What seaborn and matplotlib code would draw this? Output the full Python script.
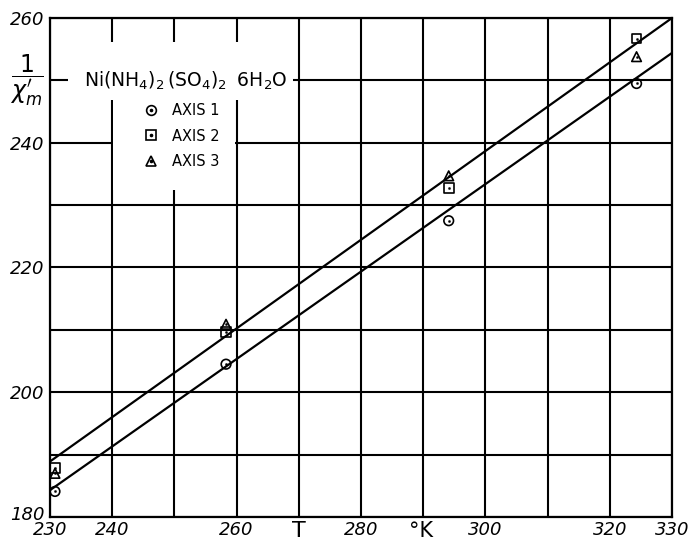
import numpy as np
import pandas as pd
import seaborn as sns
import matplotlib
matplotlib.use("Agg")
import matplotlib.pyplot as plt
from matplotlib.patches import Rectangle
from matplotlib.lines import Line2D
from matplotlib.legend_handler import HandlerTuple
from matplotlib.transforms import ScaledTranslation

# Measured reciprocal susceptibility of Ni(NH4)2(SO4)2·6H2O along three crystal axes
temps = [230.8, 258.3, 294.1, 324.3]
axis1 = [184.1, 204.5, 227.5, 249.5]
axis2 = [187.9, 209.7, 232.7, 256.7]
axis3 = [187.0, 210.9, 234.7, 253.8]
series_labels = ["AXIS 1", "AXIS 2", "AXIS 3"]
series_markers = ["o", "s", "^"]

# Straight lines drawn through the data (end points at 230 K and 330 K)
line_T = [230, 330]
upper_line = [188.9, 260.0]
lower_line = [184.3, 254.4]

x_tick_labels = [230, 240, 260, 280, 300, 320, 330]
y_tick_labels = [180, 200, 220, 240, 260]

points = pd.DataFrame({
    "T": temps * 3,
    "inv_chi": axis1 + axis2 + axis3,
    "axis": np.repeat(series_labels, len(temps)),
})
lines = pd.DataFrame({
    "T": line_T * 2,
    "inv_chi": upper_line + lower_line,
    "fit": ["upper"] * 2 + ["lower"] * 2,
})

sns.set_style("white")
plt.rcParams["font.family"] = ["DejaVu Sans"]
plt.rcParams.update({"text.color": "black", "xtick.color": "black",
                     "ytick.color": "black", "axes.labelcolor": "black"})

W, H = 688, 540
fig = plt.figure(figsize=(W / 100, H / 100), dpi=100)
ax = fig.add_axes([50 / W, 23 / H, 622 / W, 499 / H])

ax.set_xlim(230, 330)
ax.set_ylim(180, 260)
xt = np.arange(230, 331, 10)
yt = np.arange(180, 261, 10)
ax.set_xticks(xt)
ax.set_yticks(yt)
ax.set_xticklabels([str(v) if v in x_tick_labels else "" for v in xt],
                   fontsize=13, fontstyle="oblique")
ax.set_yticklabels([str(v) if v in y_tick_labels else "" for v in yt],
                   fontsize=13, fontstyle="oblique")
ax.tick_params(axis="x", length=0, pad=3, colors="black")
ax.tick_params(axis="y", length=0, pad=4, colors="black")
# lift the lowest y label a little so it clears the first x label
for lbl in ax.get_yticklabels():
    if lbl.get_text() == "180":
        lbl.set_transform(lbl.get_transform() +
                          ScaledTranslation(0, 4 / 100, fig.dpi_scale_trans))
ax.set_axisbelow(True)
ax.grid(True, color="black", lw=1.5)
for sp in ax.spines.values():
    sp.set_color("black")
    sp.set_linewidth(1.6)

# clear panels behind the compound name and the key
ax.add_patch(Rectangle((232.9, 246.8), 269.1 - 232.9, 256.1 - 246.8,
                       facecolor="white", edgecolor="none", zorder=1))
ax.add_patch(Rectangle((240.15, 232.4), 259.75 - 240.15, 246.9 - 232.4,
                       facecolor="white", edgecolor="none", zorder=1))

sns.lineplot(data=lines, x="T", y="inv_chi", units="fit", estimator=None,
             color="black", lw=1.6, ax=ax, zorder=2, legend=False)

for lab, mk in zip(series_labels, series_markers):
    sub = points[points["axis"] == lab]
    sns.scatterplot(data=sub, x="T", y="inv_chi", marker=mk, s=48,
                    facecolors="none", edgecolors="black", linewidth=1.2,
                    ax=ax, zorder=3, legend=False)
sns.scatterplot(data=points, x="T", y="inv_chi", marker="o", s=3,
                color="black", edgecolor="black", ax=ax, zorder=4, legend=False)

ax.set_xlabel("")
ax.set_ylabel("")

# key
handles = []
for mk in series_markers:
    outer = Line2D([], [], marker=mk, ls="none", mfc="none", mec="black",
                   ms=7, mew=1.2)
    dot = Line2D([], [], marker="o", ls="none", color="black", ms=1.6)
    handles.append((outer, dot))
leg = ax.legend(handles=handles, labels=series_labels,
                handler_map={tuple: HandlerTuple(ndivide=1)},
                loc="upper left", bbox_to_anchor=(0.135, 0.85), frameon=False,
                fontsize=10.5, labelspacing=0.72, handlelength=1.0,
                handletextpad=0.9, borderpad=0.2)
for t in leg.get_texts():
    t.set_color("black")

ax.text(251.9, 250.0, r"$\mathrm{Ni(NH_4)_2\,(SO_4)_2\;\;6H_2O}$",
        ha="center", va="center", fontsize=13.5, zorder=5, color="black")

# axis titles
ax.text(-0.037, 0.875, r"$\dfrac{1}{\chi^{\prime}_{m}}$", transform=ax.transAxes,
        ha="center", va="center", fontsize=17, color="black")
ax.text(270, -0.040, "T", transform=ax.get_xaxis_transform(),
        ha="center", va="baseline", fontsize=16, color="black")
ax.text(289.6, -0.040, "°K", transform=ax.get_xaxis_transform(),
        ha="center", va="baseline", fontsize=15, color="black")

fig.savefig("out.png", dpi=100, facecolor="white")
